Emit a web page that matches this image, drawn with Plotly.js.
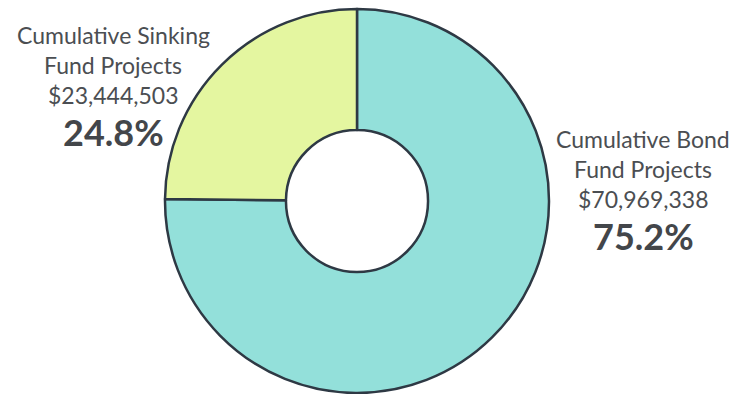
<!DOCTYPE html>
<html>
<head>
<meta charset="utf-8">
<script src="https://cdn.plot.ly/plotly-3.0.1.min.js"></script>
<style>html,body{margin:0;padding:0;background:#fff;}#chart{width:744px;height:394px;}</style>
</head>
<body>
<div id="chart"></div>
<script>
const labelLines = [["Cumulative Bond", "Fund Projects"], ["Cumulative Sinking", "Fund Projects"]];
const values = [70969338, 23444503];
const colors = ["#93E0DA", "#E4F6A0"];

const total = values.reduce((a, b) => a + b, 0);
const fmtMoney = v => "$" + v.toLocaleString("en-US");
const fmtPct = v => (v / total * 100).toFixed(1) + "%";

const W = 744, H = 394;
const py = p => 1 - p / H;
const px = p => p / W;

// label block positions (pixel centers) per slice
const blockX = [643, 113];
const blockY = [139, 35];
const lineGap = 30;
const pctOffset = 97;

const annotations = [];
values.forEach((v, i) => {
  const lines = labelLines[i].concat([fmtMoney(v)]);
  lines.forEach((t, j) => {
    annotations.push({
      text: t, x: px(blockX[i]), y: py(blockY[i] + j * lineGap),
      xref: "paper", yref: "paper", xanchor: "center", yanchor: "middle",
      showarrow: false,
      font: {family: "Lato, 'Open Sans', sans-serif", size: 23, color: "#4b4e52"}
    });
  });
  annotations.push({
    text: "<b>" + fmtPct(v) + "</b>", x: px(blockX[i]), y: py(blockY[i] + pctOffset),
    xref: "paper", yref: "paper", xanchor: "center", yanchor: "middle",
    showarrow: false,
    font: {family: "Lato, 'Open Sans', sans-serif", size: 36, color: "#43464a"}
  });
});

const trace = {
  type: "pie",
  labels: labelLines.map(l => l.join(" ")),
  values: values,
  hole: 0.37,
  sort: false,
  direction: "clockwise",
  rotation: 0,
  textinfo: "none",
  hoverinfo: "none",
  marker: {colors: colors, line: {color: "#2e3944", width: 2.5}},
  domain: {x: [px(165), px(549)], y: [py(393), py(9)]},
  showlegend: false
};

Plotly.newPlot("chart", [trace], {
  width: W, height: H,
  margin: {l: 0, r: 0, t: 0, b: 0},
  paper_bgcolor: "#fff",
  showlegend: false,
  annotations: annotations
}, {displayModeBar: false, staticPlot: true});
</script>
</body>
</html>
